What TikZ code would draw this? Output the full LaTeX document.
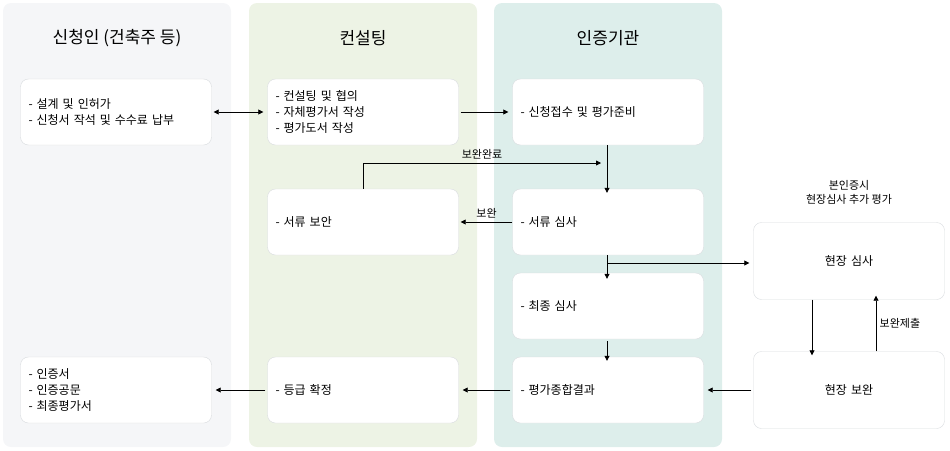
\documentclass[tikz,border=0pt]{standalone}
\usepackage{fontspec}
\setmainfont{Noto Sans CJK KR}
\usetikzlibrary{arrows.meta}
\definecolor{colgray}{HTML}{F5F6F8}
\definecolor{colgreen}{HTML}{EDF3E5}
\definecolor{colteal}{HTML}{DDEEEB}
\definecolor{boxline}{HTML}{D9DCDF}
\tikzset{
  column/.style={rounded corners=8pt},
  stepbox/.style={draw=boxline,fill=white,rounded corners=8pt,minimum width=191pt,minimum height=66pt,align=left,font=\fontsize{12}{16}\selectfont,text width=175pt},
  sitebox/.style={stepbox,minimum height=77pt,align=center},
  head/.style={font=\fontsize{17}{19}\selectfont},
  small/.style={font=\fontsize{11}{14}\selectfont},
  flow/.style={-{Triangle[length=5pt,width=5pt]},line width=0.8pt},
}
\begin{document}
\begin{tikzpicture}[x=1pt,y=-1pt]
      \useasboundingbox (0,0) rectangle (950,450);
      % columns
      \fill[colgray,column] (3,3) rectangle (231,447);
      \fill[colgreen,column] (249,3) rectangle (477,447);
      \fill[colteal,column] (494,3) rectangle (722,447);
      \node[head](h1) at (117,38) {신청인 (건축주 등)};
      \node[head](h2) at (363,38) {컨설팅};
      \node[head](h3) at (608,38) {인증기관};

      \node[stepbox](A1) at (116,112) {- 설계 및 인허가\\- 신청서 작석 및 수수료 납부};
      \node[stepbox](A2) at (116,390) {- 인증서\\- 인증공문\\- 최종평가서};
      \node[stepbox](B1) at (363,112) {- 컨설팅 및 협의\\- 자체평가서 작성\\- 평가도서 작성};
      \node[stepbox](B2) at (363,222) {- 서류 보안};
      \node[stepbox](B3) at (363,390) {- 등급 확정};
      \node[stepbox](C1) at (608,112) {- 신청접수 및 평가준비};
      \node[stepbox](C2) at (608,222) {- 서류 심사};
      \node[stepbox](C3) at (608,306) {- 최종 심사};
      \node[stepbox](C4) at (608,390) {- 평가종합결과};
      \node[sitebox](D1) at (849,261) {현장 심사};
      \node[sitebox](D2) at (849,390) {현장 보완};
      \node[small,align=center](note) at (849,192) {본인증시\\현장심사 추가 평가};

      \coordinate (m1) at (607,163);
      \coordinate (m2) at (607,263);
      \draw[{Triangle[length=5pt,width=5pt]}-{Triangle[length=5pt,width=5pt]},line width=0.8pt] ([xshift=2pt]A1.east) -- ([xshift=-4pt]B1.east -| B1.west);
      \draw[flow] ([xshift=2pt]B1.east) -- ([xshift=-4pt]C1.west);
      \draw[flow] (C1.south -| m1) -- ([yshift=-4pt]C2.north -| m1);
      \draw[flow] (B2.north) |- node[pos=0.75,above,small] {보완완료} ([xshift=-6pt]m1);
      \draw[flow] (C2.west) -- node[above,small] {보완} ([xshift=2pt]B2.east);
      \draw[flow] (C2.south -| m2) -- ([yshift=-6pt]C3.north -| m2);
      \draw[flow] (m2) -- ([xshift=-4pt]m2 -| D1.west);
      \draw[flow] ([yshift=-2pt]C3.south -| m2) -- ([yshift=-4pt]C4.north -| m2);
      \draw[flow] ([xshift=-37pt]D1.south) -- ([xshift=-37pt,yshift=-4pt]D2.north);
      \draw[flow] ([xshift=27pt]D2.north) -- node[right,small] {보완제출} ([xshift=27pt,yshift=4pt]D1.south);
      \draw[flow] ([xshift=-2pt]D2.west) -- ([xshift=4pt]C4.east);
      \draw[flow] ([xshift=-2pt]C4.west) -- ([xshift=4pt]B3.east);
      \draw[flow] ([xshift=-2pt]B3.west) -- ([xshift=4pt]A2.east);
\end{tikzpicture}
\end{document}
